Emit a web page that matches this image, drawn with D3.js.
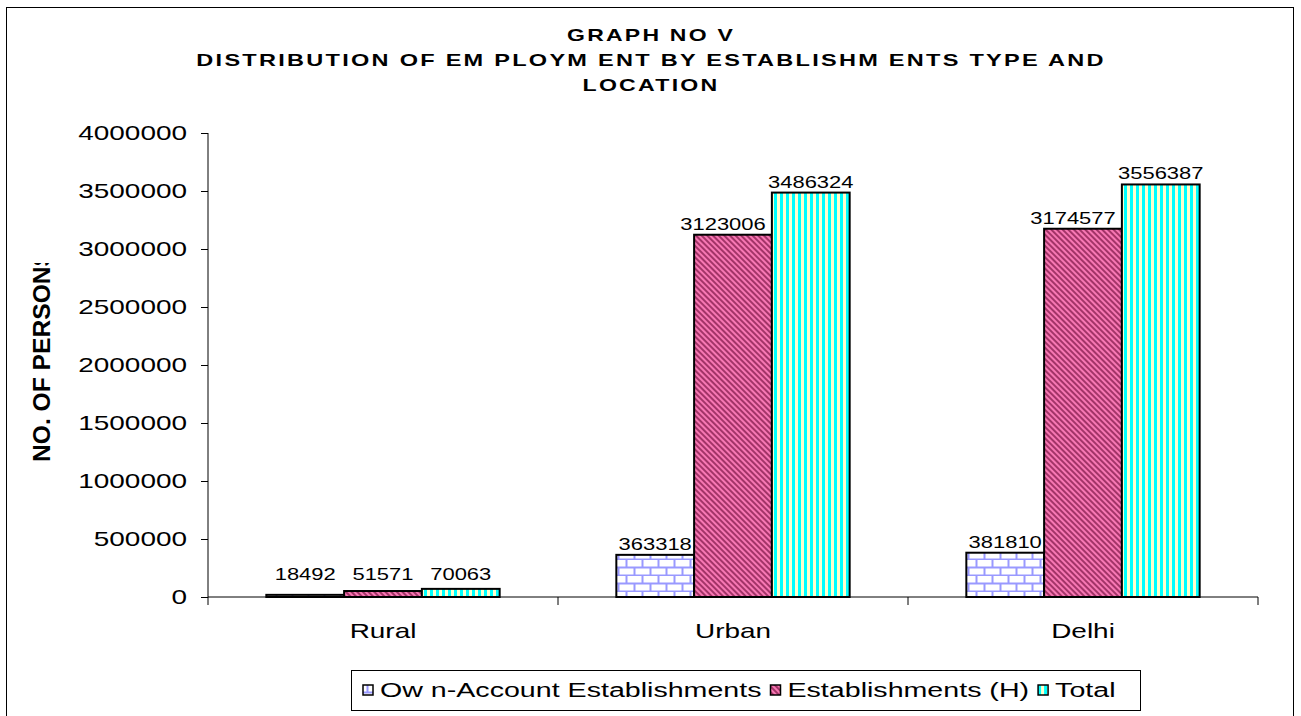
<!DOCTYPE html>
<html>
<head>
<meta charset="utf-8">
<script src="https://cdn.jsdelivr.net/npm/d3@7"></script>
<style>
body{margin:0;background:#fff;}
svg{font-family:"Liberation Sans",Arial,sans-serif;}
</style>
</head>
<body>
<svg id="chart" width="1301" height="716"></svg>
<script>
// data
let locations = ["Rural", "Urban", "Delhi"];
let seriesNames = ["Own-Account Establishments", "Establishments (H)", "Total"];
let legendLabels = ["Ow n-Account Establishments", "Establishments (H)", "Total"];
let ownAccount = [18492, 363318, 381810];
let establishments = [51571, 3123006, 3174577];
let totals = [70063, 3486324, 3556387];
let yTicks = [0, 500000, 1000000, 1500000, 2000000, 2500000, 3000000, 3500000, 4000000];
let titleLines = ["GRAPH NO V", "DISTRIBUTION OF EM PLOYM ENT BY ESTABLISHM ENTS TYPE AND", "LOCATION"];
let titleWidths = [168, 910, 137];

let svg = d3.select("#chart");
let defs = svg.append("defs");
let WIDE = 1.33;   // excel text looks horizontally stretched

function stretch(sel, k) {
    sel.each(function () {
        let len = this.getComputedTextLength();
        d3.select(this).attr("textLength", len * k).attr("lengthAdjust", "spacingAndGlyphs");
    });
}

// brick pattern (own account)
let pb = defs.append("pattern").attr("id", "brick").attr("patternUnits", "userSpaceOnUse")
    .attr("width", 16).attr("height", 16);
pb.append("rect").attr("width", 16).attr("height", 16).attr("fill", "#fff");
pb.append("path").attr("d", "M0,7.5H16M0,15.5H16M4.5,0V8M12.5,8V16")
    .attr("stroke", "#9999ff").attr("stroke-width", 2);

// diagonal stripes (establishments)
let pd = defs.append("pattern").attr("id", "diag").attr("patternUnits", "userSpaceOnUse")
    .attr("width", 4).attr("height", 4).attr("patternTransform", "rotate(45)");
pd.append("rect").attr("width", 4).attr("height", 4).attr("fill", "#f878b4");
pd.append("rect").attr("width", 4).attr("height", 2).attr("fill", "#a33468");

// vertical stripes (total)
let pv = defs.append("pattern").attr("id", "vert").attr("patternUnits", "userSpaceOnUse")
    .attr("width", 6).attr("height", 6);
pv.append("rect").attr("width", 6).attr("height", 6).attr("fill", "#00ffff");
pv.append("rect").attr("x", 3).attr("width", 3).attr("height", 6).attr("fill", "#ffffcc");

let fills = ["url(#brick)", "url(#diag)", "url(#vert)"];

// outer border
svg.append("rect").attr("x", 6.5).attr("y", 7.5).attr("width", 1287).attr("height", 720)
    .attr("fill", "none").attr("stroke", "#000").attr("stroke-width", 1);

// title: wide glyphs plus extra letter spacing
titleLines.forEach((line, i) => {
    let t = svg.append("text").attr("font-size", 16.5).attr("font-weight", "bold")
        .attr("letter-spacing", "1.6px").attr("text-anchor", "middle").text(line);
    let w = t.node().getComputedTextLength();
    t.attr("transform", "translate(651," + (41 + i * 25) + ") scale(" + (titleWidths[i] / w) + ",1)");
});

let pLeft = 208, pRight = 1258, pTop = 133, pBottom = 597;

let y = d3.scaleLinear().domain([0, 4000000]).range([pBottom, pTop]);
let x0 = d3.scaleBand().domain(locations).range([pLeft, pRight]);
// bar width w with 1.5w gap: band = 4.5w
let gap = x0.bandwidth() * 0.75 / 4.5;
let x1 = d3.scaleBand().domain(seriesNames).range([gap, x0.bandwidth() - gap]);

let rows = locations.map((loc, i) => ({
    loc: loc,
    vals: [ownAccount[i], establishments[i], totals[i]]
}));

// y axis
let yAxis = d3.axisLeft(y).tickValues(yTicks).tickSize(7).tickPadding(14).tickFormat(d => d);
let ya = svg.append("g").attr("transform", "translate(" + pLeft + ",0)").call(yAxis);
ya.selectAll("text").attr("font-size", 21).attr("font-family", "Liberation Sans, Arial").attr("fill", "#000");
stretch(ya.selectAll("text"), WIDE);
ya.select(".domain").attr("d", "M0," + pTop + "V" + pBottom);

// bars
let groups = svg.selectAll(".grp").data(rows).enter().append("g")
    .attr("transform", d => "translate(" + x0(d.loc) + ",0)");
groups.selectAll("rect").data(d => d.vals.map((v, k) => ({ s: seriesNames[k], v: v, k: k })))
    .enter().append("rect")
    .attr("x", d => x1(d.s)).attr("width", x1.bandwidth())
    .attr("y", d => y(d.v)).attr("height", d => pBottom - y(d.v))
    .attr("fill", d => fills[d.k]).attr("stroke", "#000").attr("stroke-width", 2);

// value labels
let lbls = groups.selectAll(".lbl").data(d => d.vals.map((v, k) => ({ s: seriesNames[k], v: v, k: k })))
    .enter().append("text")
    .attr("x", d => x1(d.s) + x1.bandwidth() / 2 - (d.k === 1 && d.v > 1000000 ? 10 : 0))
    .attr("y", d => Math.min(y(d.v) - 5, pBottom - 17))
    .attr("text-anchor", "middle").attr("font-size", 16.5).text(d => d.v);
stretch(lbls, WIDE);

// x axis
let xAxis = d3.axisBottom(x0).tickSize(0).tickPadding(26);
let xa = svg.append("g").attr("transform", "translate(0," + pBottom + ")").call(xAxis);
xa.selectAll("text").attr("font-size", 21).attr("font-family", "Liberation Sans, Arial").attr("fill", "#000");
stretch(xa.selectAll("text"), WIDE);
xa.select(".domain").attr("d", "M" + pLeft + ",0H" + pRight);
xa.selectAll(".bnd").data(locations.concat(["end"])).enter().append("line").attr("class", "bnd")
    .attr("x1", (d, i) => pLeft + i * x0.step()).attr("x2", (d, i) => pLeft + i * x0.step())
    .attr("y1", 0).attr("y2", 8).attr("stroke", "#000");

// y axis title (clipped at the top like the original)
defs.append("clipPath").attr("id", "ytclip").append("rect")
    .attr("x", 0).attr("y", 263).attr("width", 120).attr("height", 400);
svg.append("g").attr("clip-path", "url(#ytclip)").append("text")
    .attr("transform", "translate(50,356) rotate(-90)")
    .attr("text-anchor", "middle").attr("font-size", 23).attr("font-weight", "bold")
    .attr("textLength", 212).attr("lengthAdjust", "spacingAndGlyphs")
    .text("NO. OF PERSONS");

// legend
let lg = svg.append("g");
lg.append("rect").attr("x", 351.5).attr("y", 670.5).attr("width", 789).attr("height", 40)
    .attr("fill", "#fff").attr("stroke", "#000");
let cx = 363;
legendLabels.forEach((lab, i) => {
    let it = lg.append("g").attr("transform", "translate(" + cx + ",685)");
    it.append("rect").attr("width", 10).attr("height", 10).attr("fill", fills[i])
        .attr("stroke", "#000").attr("stroke-width", 1.5);
    let t = it.append("text").attr("x", 17).attr("y", 12).attr("font-size", 20).text(lab);
    let w = t.node().getComputedTextLength() * 1.43;
    t.attr("textLength", w).attr("lengthAdjust", "spacingAndGlyphs");
    cx += 17 + w + 9;
});
</script>
</body>
</html>
